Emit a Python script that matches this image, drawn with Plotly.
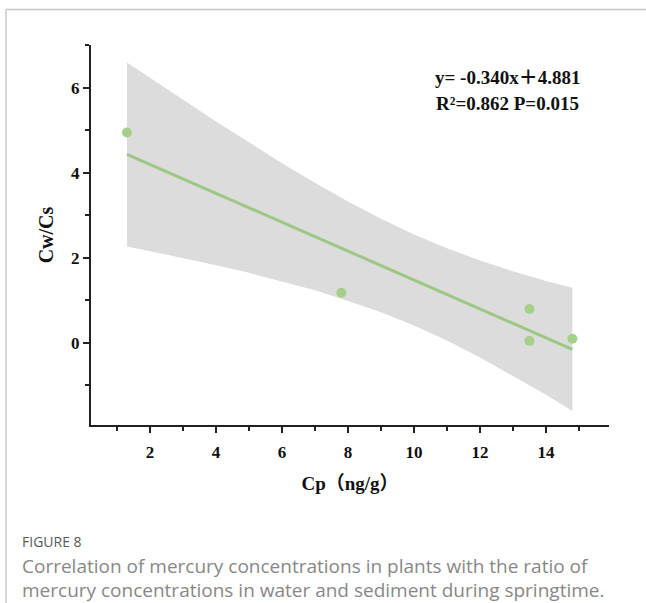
import plotly.graph_objects as go

# Measured samples: plant Hg (Cp, ng/g) vs. water/sediment ratio (Cw/Cs)
cp = [1.3, 7.8, 13.5, 13.5, 14.8]
cw_cs = [4.95, 1.18, 0.80, 0.05, 0.10]

# Fitted line (from the stated equation)
slope = -0.340
intercept = 4.881
fit_x = [1.3, 14.8]

# 95% confidence band of the fit
band_x = [1.3, 2, 3, 4, 5, 6, 7, 8, 9, 10, 11, 12, 13, 14, 14.8]
band_upper = [6.60, 6.24, 5.72, 5.21, 4.72, 4.23, 3.77, 3.33, 2.92, 2.55, 2.23, 1.94, 1.69, 1.46, 1.30]
band_lower = [2.27, 2.16, 2.00, 1.83, 1.65, 1.45, 1.24, 0.99, 0.72, 0.41, 0.06, -0.34, -0.77, -1.22, -1.60]

x_ticks = [2, 4, 6, 8, 10, 12, 14]
y_ticks = [0, 2, 4, 6]

# plot-area geometry in pixels (for placing page decorations)
W, H = 646, 603
L, R, T, B = 91, 609, 45, 425


def px(x):
    return (x - L) / (R - L)


def py(y):
    return (B - y) / (B - T)


serif = "Liberation Serif, Times New Roman, Noto Sans CJK SC, serif"
sans = "Open Sans, Lato, sans-serif"

fig = go.Figure()

fig.add_trace(go.Scatter(
    x=band_x + band_x[::-1],
    y=band_upper + band_lower[::-1],
    fill="toself", fillcolor="#dcdcdc",
    line=dict(width=0), mode="lines", hoverinfo="skip", showlegend=False,
))

fig.add_trace(go.Scatter(
    x=fit_x, y=[slope * v + intercept for v in fit_x],
    mode="lines", line=dict(color="#9dc784", width=3), showlegend=False,
))

fig.add_trace(go.Scatter(
    x=cp, y=cw_cs, mode="markers",
    marker=dict(color="#a6d08a", size=10, line=dict(width=0)),
    showlegend=False,
))

axis_common = dict(
    showgrid=False, zeroline=False, showline=True, linecolor="#222",
    linewidth=2, ticks="outside", tickcolor="#222", tickwidth=2, ticklen=6,
    tickfont=dict(family=serif, size=17, color="#111"),
)

fig.update_xaxes(
    range=[0.21, 15.91], tickvals=x_ticks, ticktext=[f"<b>{v}</b>" for v in x_ticks],
    ticklabelstandoff=5,
    minor=dict(dtick=2, tick0=1, ticks="outside", ticklen=4, tickwidth=2, tickcolor="#222"),
    title=dict(text="<b>Cp（ng/g）</b>", font=dict(family=serif, size=19, color="#111"), standoff=15),
    **axis_common,
)
fig.update_yaxes(
    range=[-1.93, 7.01], tickvals=y_ticks, ticktext=[f"<b>{v}</b>" for v in y_ticks],
    minor=dict(dtick=2, tick0=1, ticks="outside", ticklen=4, tickwidth=2, tickcolor="#222"),
    title=dict(text="<b>Cw/Cs</b>", font=dict(family=serif, size=20, color="#111"), standoff=12),
    **axis_common,
)

annotations = [
    dict(x=px(507), y=py(77), xref="paper", yref="paper", showarrow=False,
         text="<b>y= -0.340x＋4.881</b>", font=dict(family=serif, size=19, color="#111"),
         xanchor="center", yanchor="middle"),
    dict(x=px(507), y=py(103), xref="paper", yref="paper", showarrow=False,
         text="<b>R²=0.862 P=0.015</b>", font=dict(family=serif, size=19, color="#111"),
         xanchor="center", yanchor="middle"),
    dict(x=px(20), y=py(541), xref="paper", yref="paper", showarrow=False,
         text="FIGURE 8", font=dict(family=sans, size=14, color="#5a5a5a"),
         xanchor="left", yanchor="middle"),
    dict(x=px(20), y=py(566), xref="paper", yref="paper", showarrow=False,
         text="Correlation of mercury concentrations in plants with the ratio of",
         font=dict(family=sans, size=19, color="#888"), xanchor="left", yanchor="middle"),
    dict(x=px(20), y=py(590), xref="paper", yref="paper", showarrow=False,
         text="mercury concentrations in water and sediment during springtime.",
         font=dict(family=sans, size=19, color="#888"), xanchor="left", yanchor="middle"),
]

shapes = [
    dict(type="line", xref="paper", yref="paper", x0=px(6), x1=px(646), y0=py(9.5), y1=py(9.5),
         line=dict(color="#c8c8c8", width=1.5)),
    dict(type="line", xref="paper", yref="paper", x0=px(6), x1=px(6), y0=py(9.5), y1=py(603),
         line=dict(color="#c8c8c8", width=1.5)),
]

fig.update_layout(
    width=W, height=H, margin=dict(l=L, r=W - R, t=T, b=H - B),
    paper_bgcolor="white", plot_bgcolor="white",
    annotations=annotations, shapes=shapes, showlegend=False,
)

fig.write_html("out.html")
